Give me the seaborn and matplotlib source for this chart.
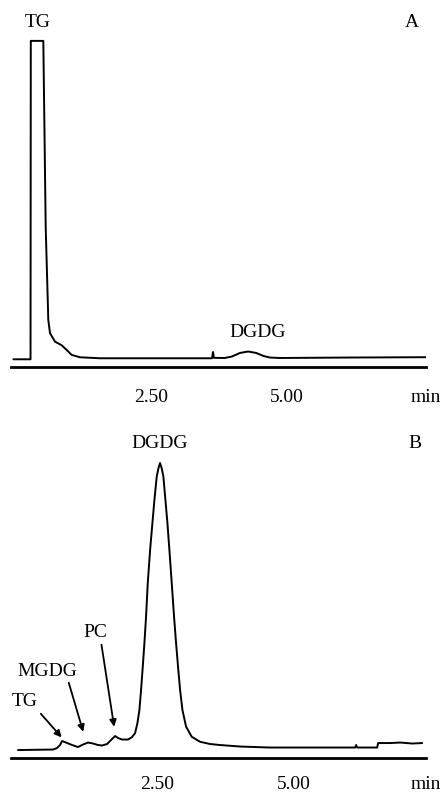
import matplotlib
matplotlib.use("Agg")
import matplotlib.pyplot as plt
import seaborn as sns

# chromatogram A, time (min) vs detector response (a.u., TG top = 100)
time_a = [-0.05, 0.266, 0.271, 0.502, 0.546, 0.594, 0.625, 0.718, 0.841, 0.934,
          1.026, 1.179, 1.55, 2.47, 3.614, 3.633, 3.65, 3.85, 3.98, 4.13,
          4.28, 4.43, 4.56, 4.68, 4.87, 6.16, 7.56]
resp_a = [2.36, 2.36, 100.0, 100.0, 42.9, 14.4, 10.4, 7.76, 6.66, 5.2,
          3.7, 2.98, 2.67, 2.67, 2.67, 4.6, 2.8, 2.76, 3.2, 4.3,
          4.75, 4.3, 3.4, 2.9, 2.76, 2.9, 3.0]

# chromatogram B, time (min) vs detector response (a.u., DGDG top = 100)
time_b = [-0.037, 0.603, 0.676, 0.731, 0.768, 0.841, 0.951, 1.060, 1.152, 1.243,
          1.335, 1.426, 1.499, 1.590, 1.682, 1.737, 1.792, 1.865, 1.974, 2.011,
          2.041, 2.102, 2.145, 2.182, 2.212, 2.243, 2.273, 2.303, 2.334, 2.377,
          2.419, 2.456, 2.498, 2.529, 2.559, 2.590, 2.620, 2.657, 2.694, 2.730,
          2.773, 2.815, 2.852, 2.888, 2.925, 2.968, 3.035, 3.138, 3.291, 3.474,
          3.656, 4.022, 4.570, 6.124, 6.143, 6.161, 6.527, 6.545, 6.764, 6.947,
          7.17, 7.35]
resp_b = [2.71, 2.88, 3.39, 4.41, 5.76, 5.25, 4.41, 3.73, 4.58, 5.25,
          4.92, 4.41, 4.24, 4.75, 6.44, 7.46, 6.78, 6.27, 6.27, 6.7,
          7.0, 8.4, 11.8, 16.3, 23.1, 30.9, 38.9, 47.9, 59.2, 70.5,
          79.6, 87.5, 95.4, 98.2, 100.0, 98.2, 95.4, 87.5, 79.6, 70.5,
          59.2, 47.9, 38.9, 30.9, 23.1, 16.3, 10.6, 7.2, 5.5, 4.75,
          4.41, 3.9, 3.56, 3.56, 4.41, 3.56, 3.56, 5.08, 5.08, 5.25,
          4.92, 5.08]

tick_pos = [2.5, 5.0]
tick_labels = ["2.50", "5.00"]

sns.set_style("white")
plt.rcParams["font.family"] = ["Liberation Serif", "DejaVu Serif"]
plt.rcParams["text.color"] = "black"
FS = 14

fig = plt.figure(figsize=(4.44, 7.94), dpi=100)
ax_a = fig.add_axes([0.0248, 0.5378, 0.9347, 0.437])
ax_b = fig.add_axes([0.0248, 0.0453, 0.9347, 0.4131])


def style_axis(ax, xlim, ylim, pad):
    ax.set_xlim(*xlim)
    ax.set_ylim(*ylim)
    for side in ["left", "right", "top"]:
        ax.spines[side].set_visible(False)
    ax.spines["bottom"].set_linewidth(2.0)
    ax.spines["bottom"].set_color("black")
    ax.set_yticks([])
    ax.set_xticks(tick_pos)
    ax.set_xticklabels(tick_labels, fontsize=FS)
    ax.tick_params(axis="x", direction="out", length=2.5, width=1.2,
                   pad=pad, colors="black")
    ax.set_xlabel("")
    ax.set_ylabel("")
    ax.annotate("min", xy=(1, 0), xycoords="axes fraction",
                xytext=(0, -(pad + 2.5)), textcoords="offset points",
                ha="center", va="top", fontsize=FS, annotation_clip=False)


sns.lineplot(x=time_a, y=resp_a, ax=ax_a, color="black", linewidth=1.4,
             estimator=None, sort=False)
style_axis(ax_a, (-0.094, 7.563), (0, 106.4), 13)
ax_a.text(0.40, 105.5, "TG", ha="center", va="center", fontsize=FS)
ax_a.text(7.31, 105.5, "A", ha="center", va="center", fontsize=FS)
ax_a.text(4.46, 10.7, "DGDG", ha="center", va="center", fontsize=FS)

sns.lineplot(x=time_b, y=resp_b, ax=ax_b, color="black", linewidth=1.4,
             estimator=None, sort=False)
style_axis(ax_b, (-0.165, 7.42), (0, 111.2), 10.5)
ax_b.text(2.56, 106.8, "DGDG", ha="center", va="center", fontsize=FS)
ax_b.text(7.22, 106.8, "B", ha="center", va="center", fontsize=FS)

arrow = dict(arrowstyle="-|>", color="black", lw=1.3, mutation_scale=10,
             shrinkA=0, shrinkB=0)
ax_b.annotate("TG", xy=(0.76, 7.0), xytext=(0.09, 19.0), fontsize=FS,
              ha="center", va="center", arrowprops=dict(arrow, relpos=(1.0, 0.0)))
ax_b.annotate("MGDG", xy=(1.155, 8.9), xytext=(0.49, 29.5), fontsize=FS,
              ha="center", va="center", arrowprops=dict(arrow, relpos=(0.85, 0.0)))
ax_b.annotate("PC", xy=(1.72, 10.6), xytext=(1.37, 42.4), fontsize=FS,
              ha="center", va="center", arrowprops=dict(arrow, relpos=(0.75, 0.0)))

fig.savefig("out.png", dpi=100, facecolor="white")
